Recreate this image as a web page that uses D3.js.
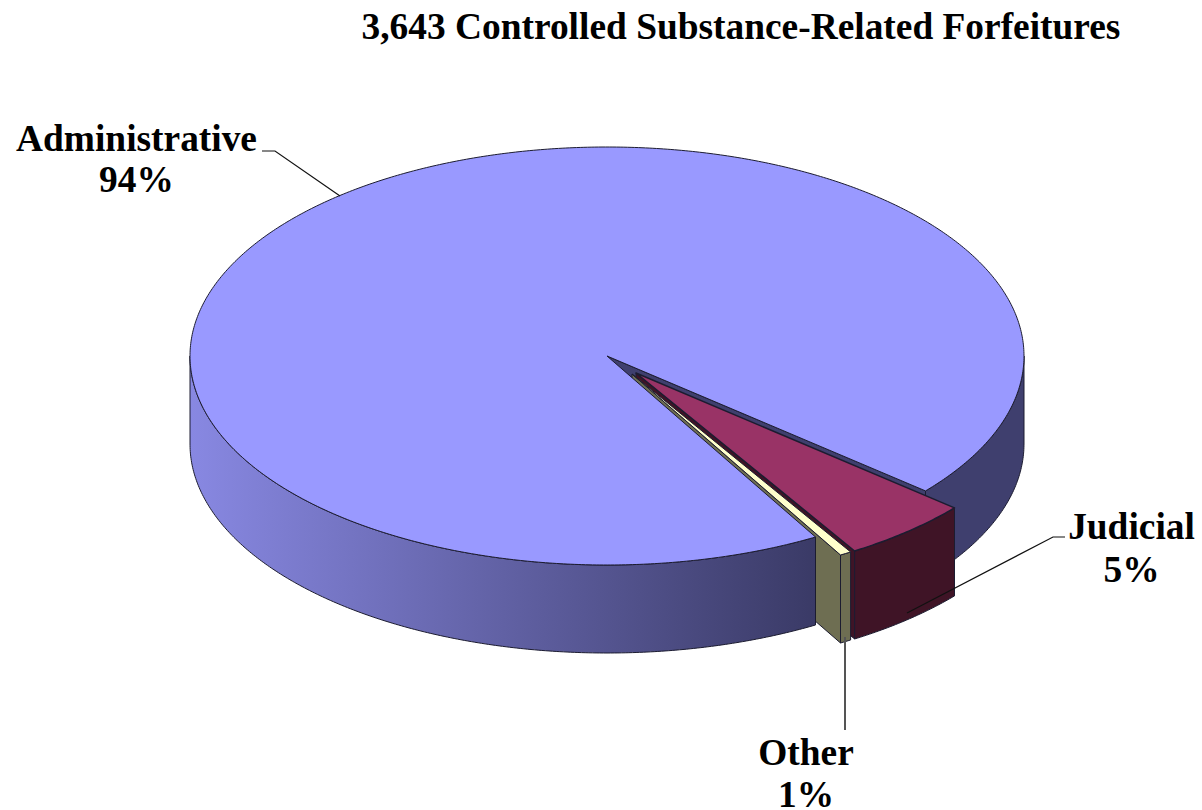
<!DOCTYPE html>
<html>
<head>
    <meta charset="utf-8">
    <style>
        html, body { margin: 0; padding: 0; background: #fff; }
        text { font-family: "Liberation Serif", serif; font-weight: bold; font-size: 37.4px; fill: #000; text-anchor: middle; }
        .edge { stroke: #1c1c30; stroke-width: 1; stroke-linejoin: round; }
        .leader { fill: none; stroke: #111; stroke-width: 1.2; }
    </style>
    <script src="https://cdn.jsdelivr.net/npm/d3@7"></script>
</head>
<body>
<script>

    var categories = ["Administrative", "Judicial", "Other"];
    var shares = [94.5, 5.05, 0.45];
    var shareLabels = ["94%", "5%", "1%"];
    var titleText = "3,643 Controlled Substance-Related Forfeitures";

    var topColors = ["#9999ff", "#993366", "#ffffcc"];
    var wallColors = ["#3f3f6e", "#3f1426", "#6e6e52"];

    var width = 1202, height = 810;
    var cx = 607, cy = 356, rx = 417, ry = 209, depth = 88;
    var none = {x: 0, y: 0};
    var judOff = {x: 29, y: 17};
    var othOff = {x: 25, y: 18};
    var rad = Math.PI / 180;

    var svg = d3.select("body").append("svg")
        .attr("width", width)
        .attr("height", height)
        .style("display", "block");

    var defs = svg.append("defs");
    var wallGrad = defs.append("linearGradient")
        .attr("id", "wallLeft")
        .attr("gradientUnits", "userSpaceOnUse")
        .attr("x1", cx - rx).attr("x2", 817)
        .attr("y1", 0).attr("y2", 0);
    wallGrad.append("stop").attr("offset", 0).attr("stop-color", "#8888e2");
    wallGrad.append("stop").attr("offset", 1).attr("stop-color", "#3a3a66");

    var arcs = d3.pie().sort(null).value(function (d) { return d; })
        .startAngle(150 * rad)
        .endAngle(510 * rad)(shares);

    var line = d3.line();

    // point on the rim of the tilted disc, angle clockwise from top
    function rim(a, off, dy) {
        return [cx + off.x + rx * Math.sin(a), cy + off.y + dy - ry * Math.cos(a)];
    }

    function samples(a0, a1) {
        var n = Math.max(2, Math.ceil(Math.abs(a1 - a0) / (0.5 * rad)));
        return d3.range(n + 1).map(function (i) { return a0 + (a1 - a0) * i / n; });
    }

    function topFace(a0, a1, off) {
        var pts = samples(a0, a1).map(function (a) { return rim(a, off, 0); });
        pts.push([cx + off.x, cy + off.y]);
        return line(pts) + "Z";
    }

    function wall(a0, a1, off) {
        var upper = samples(a0, a1).map(function (a) { return rim(a, off, 0); });
        var lower = samples(a1, a0).map(function (a) { return rim(a, off, depth); });
        return line(upper.concat(lower)) + "Z";
    }

    function cutFace(a, off) {
        var p = rim(a, off, 0);
        return line([[cx + off.x, cy + off.y], p, [p[0], p[1] + depth], [cx + off.x, cy + off.y + depth]]) + "Z";
    }

    function face(d, fill) {
        return svg.append("path").attr("class", "edge").attr("d", d).attr("fill", fill);
    }

    var adm = arcs[0], jud = arcs[1], oth = arcs[2];

    // painter's order, back to front
    face(wall(90 * rad, adm.endAngle - 360 * rad, none), wallColors[0]);
    face(cutFace(adm.endAngle, none), wallColors[0]);

    face(cutFace(jud.endAngle, judOff), wallColors[1]);
    face(wall(jud.startAngle, jud.endAngle, judOff), wallColors[1]);
    face(topFace(jud.startAngle, jud.endAngle, judOff), topColors[1]).style("stroke-width", 1.5);

    face(cutFace(oth.endAngle, othOff), wallColors[2]);
    face(wall(oth.startAngle, oth.endAngle, othOff), wallColors[2]);
    face(topFace(oth.startAngle, oth.endAngle, othOff), topColors[2]);

    face(wall(adm.startAngle, 270 * rad, none), "url(#wallLeft)");
    face(topFace(adm.startAngle, adm.endAngle, none), topColors[0]);

    // leader lines
    svg.append("path").attr("class", "leader").attr("d", line([[262, 151], [275, 151], [340, 196]]));
    svg.append("path").attr("class", "leader").attr("d", line([[1065, 537], [1053, 537], [907, 613]]));
    svg.append("path").attr("class", "leader").style("stroke", "#555").style("stroke-width", 2)
        .attr("d", line([[845, 637], [845, 730]]));

    svg.append("text").attr("x", 741).attr("y", 39).text(titleText);

    var labelPos = [[136.5, 151, 192], [1131.5, 539, 582], [806, 765, 807]];
    categories.forEach(function (c, i) {
        svg.append("text").attr("x", labelPos[i][0]).attr("y", labelPos[i][1]).text(c);
        svg.append("text").attr("x", labelPos[i][0]).attr("y", labelPos[i][2]).text(shareLabels[i]);
    });

</script>
</body>
</html>
